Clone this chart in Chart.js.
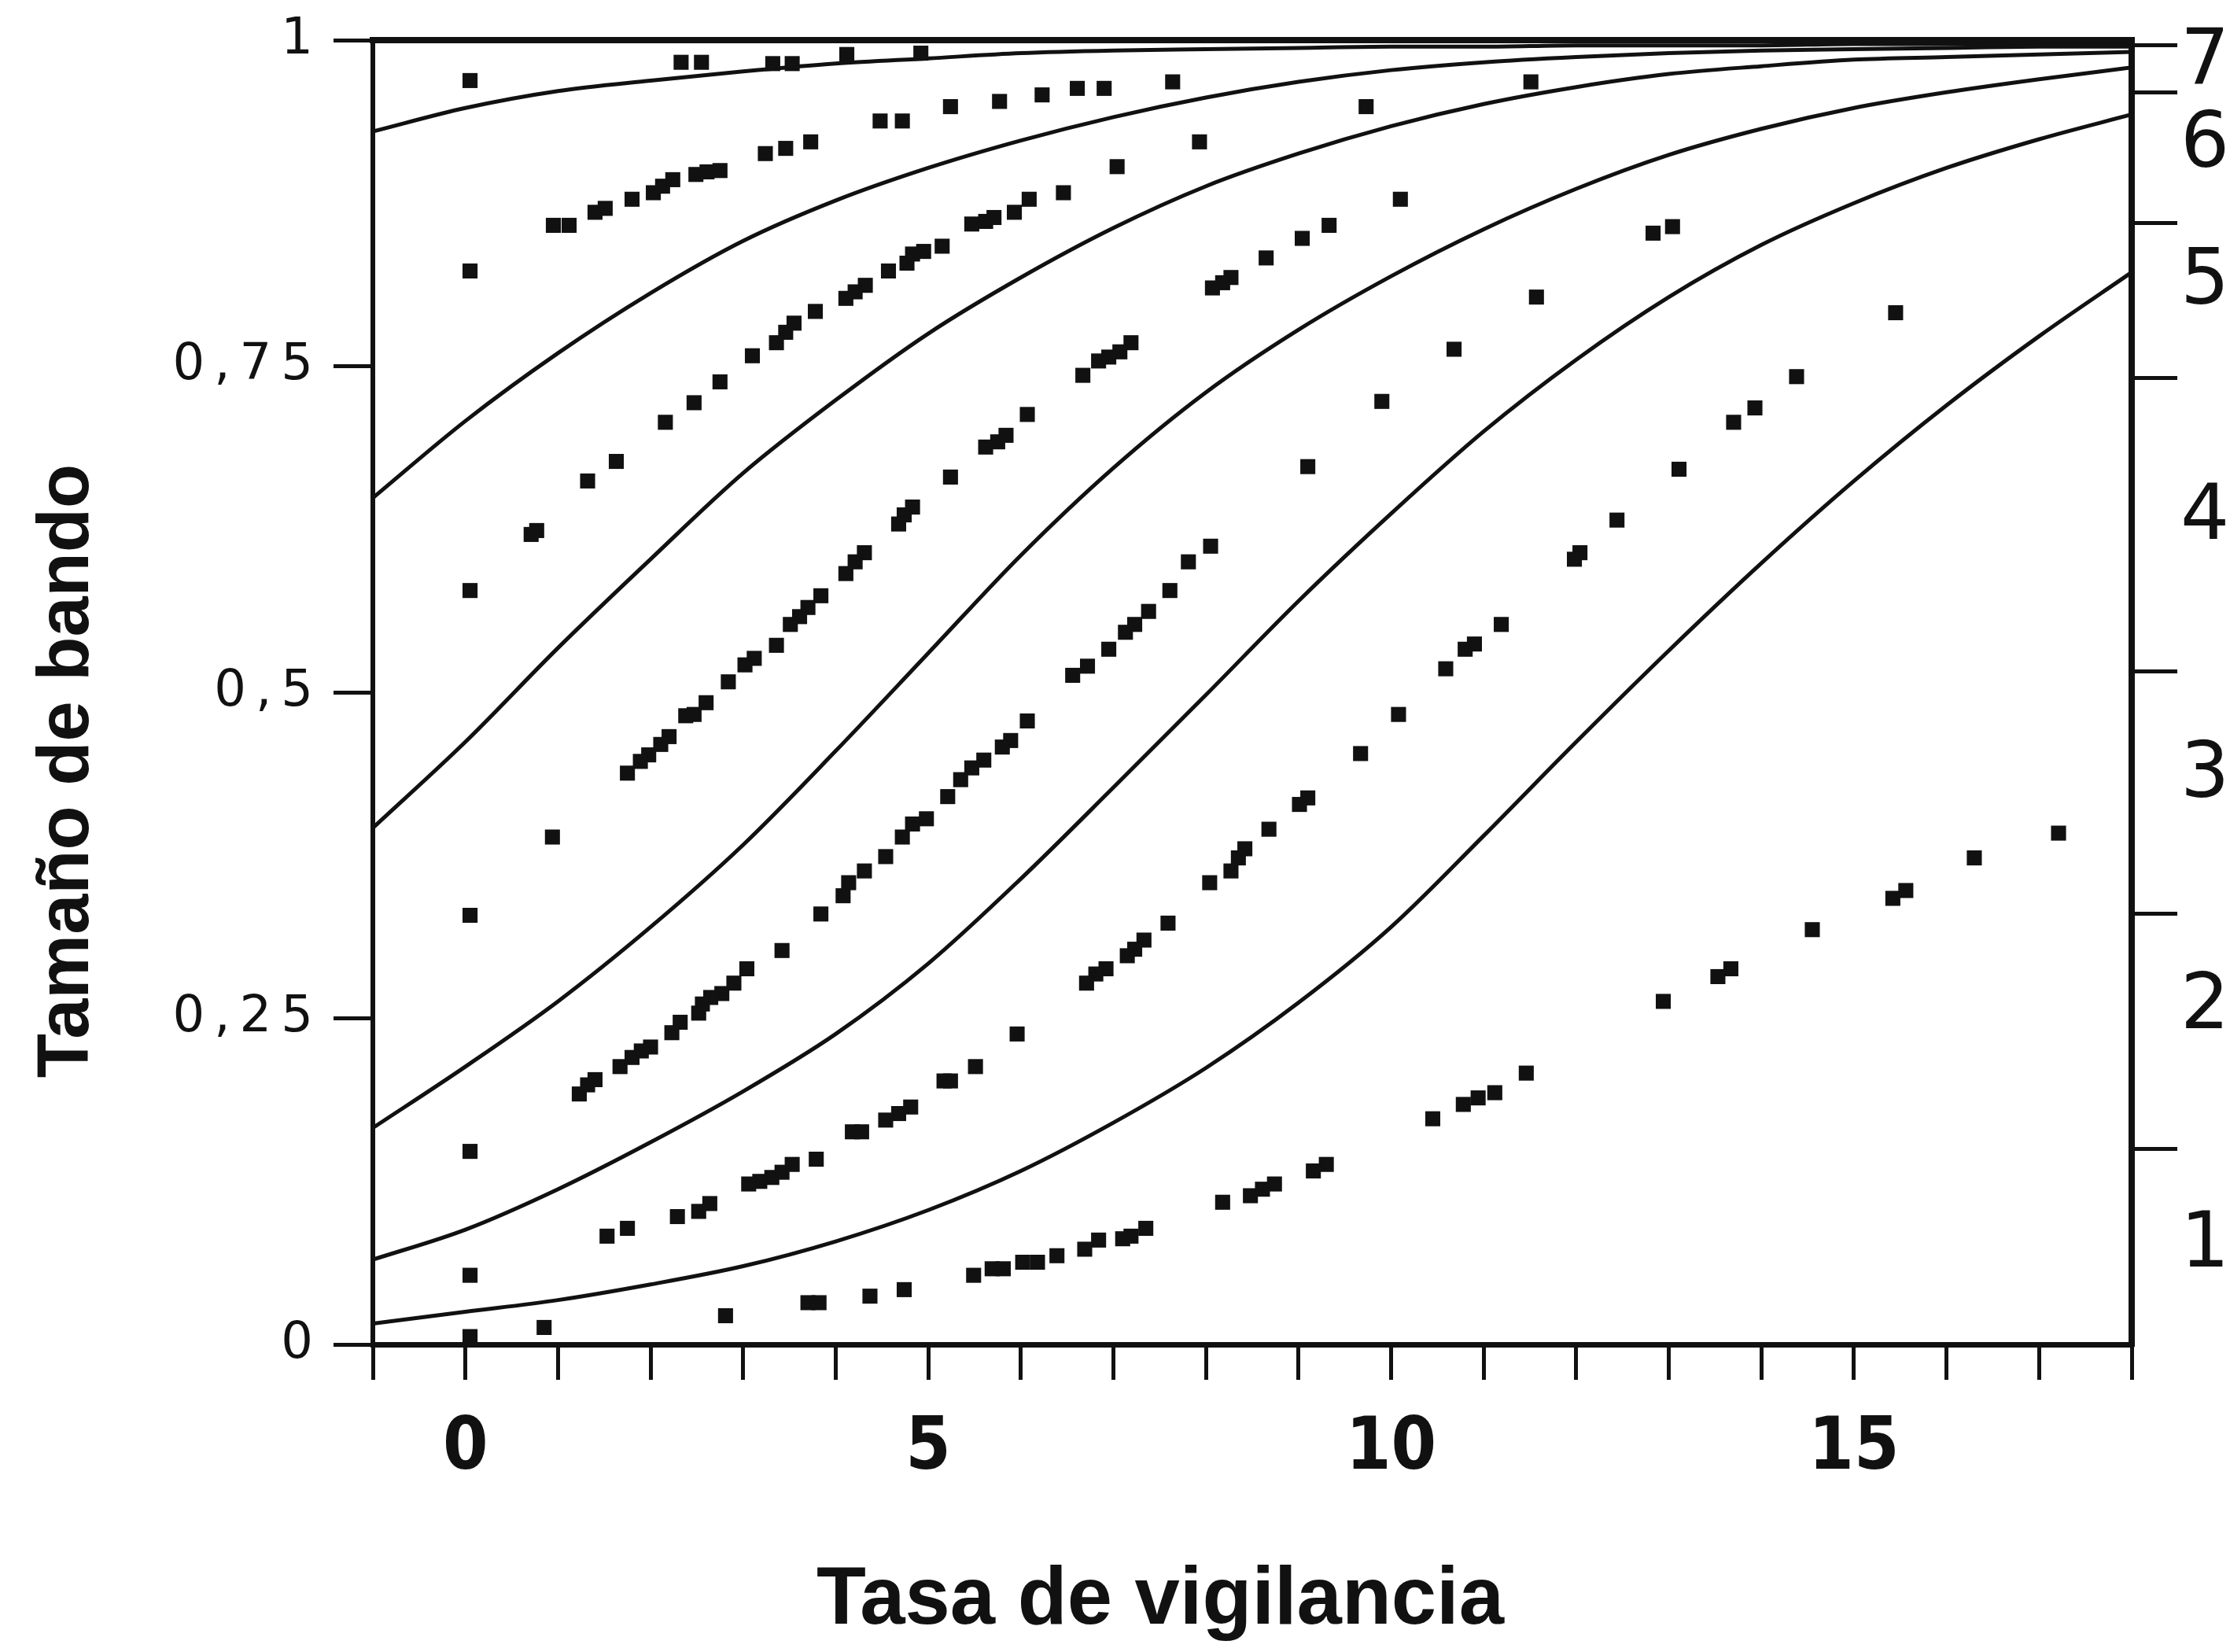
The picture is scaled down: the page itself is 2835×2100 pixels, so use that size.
<!DOCTYPE html>
<html>
<head>
<meta charset="utf-8">
<script src="https://cdn.jsdelivr.net/npm/chart.js@4.4.1/dist/chart.umd.min.js"></script>
<style>
html, body { margin:0; padding:0; background:#fff; overflow:hidden; width:2835px; height:2100px; }
#wrap { position:absolute; left:0; top:-140px; width:2950px; height:2240px; }
canvas { display:block; }
</style>
</head>
<body>
<div id="wrap"><canvas id="c" width="2950" height="2240"></canvas></div>
<script>
// ---- data ----
const xAxisTitle = 'Tasa de vigilancia';
const yAxisTitle = 'Tamaño de bando';
const xLabelledTicks = [0, 5, 10, 15];
const yTickStep = 0.25;

const curveX = [-1,0,1,2,3,4,5,6,7,8,9,10,11,12,13,14,15,16,17,18];
const curve1 = [0.016,0.025,0.034,0.046,0.060,0.079,0.103,0.133,0.170,0.212,0.262,0.320,0.390,0.462,0.532,0.599,0.662,0.720,0.773,0.822];
const curve2 = [0.065,0.088,0.119,0.155,0.194,0.238,0.292,0.357,0.427,0.498,0.570,0.637,0.700,0.755,0.803,0.843,0.875,0.902,0.924,0.943];
const curve3 = [0.166,0.213,0.263,0.320,0.383,0.455,0.530,0.605,0.672,0.730,0.778,0.819,0.855,0.886,0.912,0.932,0.948,0.960,0.970,0.979];
const curve4 = [0.396,0.462,0.534,0.602,0.668,0.724,0.775,0.818,0.856,0.888,0.913,0.934,0.951,0.964,0.974,0.980,0.985,0.987,0.989,0.991];
const curve5 = [0.649,0.708,0.760,0.806,0.846,0.877,0.902,0.923,0.941,0.956,0.968,0.977,0.983,0.987,0.990,0.992,0.993,0.994,0.995,0.995];
const curve6 = [0.930,0.948,0.961,0.969,0.976,0.982,0.986,0.990,0.992,0.993,0.994,0.995,0.995,0.996,0.996,0.996,0.997,0.997,0.997,0.997];

const pointX = [
 0.05,2.33,2.55,3.32,3.53,4.12,4.92,
 4.48,4.72,5.24,5.77,6.23,6.61,6.90,7.64,9.73,11.51,
 0.05,0.95,1.12,1.40,1.51,1.80,2.03,2.13,2.24,2.49,2.61,2.75,3.24,3.46,3.73,
 7.93,7.04,6.46,6.09,5.93,5.47,5.62,5.71,5.15,4.95,4.83,4.77,4.57,4.32,4.21,4.11,
 3.78,3.55,3.46,3.36,3.10,2.75,2.47,2.16,1.63,1.32,0.77,0.71,0.05,
 10.10,9.33,9.04,8.65,8.27,8.18,8.07,12.83,13.04,11.57,10.68,9.90,9.10,
 7.19,7.07,6.95,6.84,6.67,6.07,5.84,5.75,5.62,5.24,4.83,4.74,4.68,4.31,4.21,4.11,3.84,
 3.70,3.61,3.51,3.36,3.12,3.02,2.84,2.60,2.47,2.38,2.20,2.11,1.98,1.89,1.75,0.94,
 15.45,14.38,13.93,13.70,13.11,12.44,12.04,11.98,11.19,10.90,10.80,10.59,
 10.08,9.67,9.10,9.01,8.68,8.42,8.35,8.27,8.04,7.59,7.33,7.23,7.15,6.92,6.81,6.71,
 8.05,7.81,7.61,7.38,7.23,7.13,6.95,6.72,6.56,
 6.07,5.89,5.80,5.60,5.47,5.35,5.21,4.98,4.83,4.72,4.54,4.31,4.14,4.08,3.84,
 3.42,3.04,2.90,2.77,2.65,2.56,2.52,2.32,2.23,2.00,1.90,1.80,1.67,1.40,1.32,1.23,0.05,
 17.21,16.30,15.56,15.42,14.55,13.67,13.53,12.94,
 11.46,11.12,10.94,10.78,10.45,9.30,9.16,8.74,8.61,8.48,8.18,
 7.35,7.19,7.10,6.84,6.69,6.39,6.18,6.02,5.81,5.69,5.49,
 5.96,5.51,5.24,5.17,4.81,4.68,4.54,4.28,4.18,3.79,3.53,3.42,3.31,3.18,3.06,2.64,2.52,2.29,1.75,1.53,0.05,
 0.05,0.05,0.85,2.81,3.70,3.82,4.37,4.74
];
const pointY = [
 0.969,0.983,0.983,0.982,0.982,0.989,0.990,
 0.938,0.938,0.949,0.953,0.958,0.963,0.963,0.968,0.949,0.968,
 0.823,0.858,0.858,0.868,0.871,0.878,0.883,0.888,0.893,0.897,0.899,0.900,0.913,0.917,0.922,
 0.922,0.903,0.883,0.878,0.868,0.859,0.861,0.864,0.842,0.838,0.836,0.829,0.823,0.812,0.807,0.802,
 0.792,0.783,0.776,0.768,0.758,0.738,0.722,0.707,0.677,0.662,0.624,0.621,0.578,
 0.878,0.858,0.848,0.833,0.818,0.814,0.810,0.852,0.857,0.803,0.763,0.723,0.673,
 0.768,0.761,0.757,0.754,0.743,0.713,0.697,0.692,0.688,0.665,0.642,0.636,0.629,0.607,0.600,0.591,0.574,
 0.565,0.558,0.552,0.536,0.526,0.521,0.508,0.492,0.483,0.482,0.466,0.460,0.452,0.447,0.438,0.389,
 0.791,0.742,0.718,0.707,0.671,0.632,0.607,0.602,0.552,0.537,0.533,0.518,
 0.483,0.453,0.419,0.414,0.395,0.380,0.373,0.363,0.354,0.323,0.310,0.303,0.298,0.288,0.284,0.277,
 0.612,0.600,0.578,0.562,0.552,0.546,0.533,0.520,0.513,
 0.478,0.463,0.458,0.448,0.442,0.433,0.420,0.403,0.399,0.389,0.374,0.363,0.354,0.344,0.330,
 0.302,0.288,0.277,0.269,0.266,0.261,0.254,0.247,0.239,0.228,0.225,0.220,0.213,0.203,0.199,0.192,0.329,
 0.392,0.373,0.348,0.342,0.318,0.288,0.282,0.263,
 0.208,0.193,0.189,0.184,0.173,0.138,0.133,0.123,0.119,0.114,0.109,
 0.089,0.083,0.081,0.080,0.073,0.068,0.063,0.063,0.058,0.058,0.053,
 0.238,0.213,0.202,0.202,0.182,0.177,0.172,0.163,0.163,0.142,0.138,0.132,0.128,0.125,0.123,0.108,0.102,0.098,0.089,0.083,0.148,
 0.053,0.006,0.013,0.022,0.032,0.032,0.037,0.042
];

// right-hand category scale: tick marks at the boundaries, labels between them
const rightBoundaries = [0.150, 0.330, 0.516, 0.741, 0.860, 0.960, 0.996];
const rightLabelPos   = [0.075, 0.258, 0.435, 0.633, 0.813, 0.918, 0.982];
const rightLabels     = ['1', '2', '3', '4', '5', '6', '7'];

// ---- chart ----
const INK = '#111';
const curves = [curve1, curve2, curve3, curve4, curve5, curve6];
const curveDatasets = curves.map(c => ({
  type: 'scatter',
  data: curveX.map((x, i) => ({ x: x, y: c[i] })),
  showLine: true,
  borderColor: INK,
  borderWidth: 5,
  pointRadius: 0,
  cubicInterpolationMode: 'monotone',
  fill: false,
  order: 2
}));
const pointDataset = {
  type: 'scatter',
  data: pointX.map((x, i) => ({ x: x, y: pointY[i] })),
  pointStyle: 'rect',
  pointRadius: 13.5,
  backgroundColor: INK,
  borderWidth: 0,
  showLine: false,
  order: 1
};

const chart = new Chart(document.getElementById('c'), {
  type: 'scatter',
  data: { datasets: [...curveDatasets, pointDataset] },
  options: {
    responsive: false,
    devicePixelRatio: 1,
    animation: false,
    events: [],
    layout: { padding: 0 },
    plugins: {
      legend: { display: false },
      tooltip: { enabled: false },
      title: {
        display: true, text: yAxisTitle, position: 'left', color: INK,
        font: { family: "'Liberation Sans', Arial, sans-serif", size: 92, weight: 'bold', lineHeight: 1 },
        padding: { top: 41, bottom: 10 }
      },
      subtitle: {
        display: true, text: xAxisTitle, position: 'bottom', color: INK,
        font: { family: "'Liberation Sans', Arial, sans-serif", size: 103, weight: 'bold', lineHeight: 1 },
        padding: { top: 0, bottom: 13 }
      }
    },
    scales: {
      x: {
        type: 'linear', position: 'bottom', min: -1, max: 18,
        ticks: {
          stepSize: 1, autoSkip: false, maxRotation: 0, minRotation: 0, padding: 34, color: INK,
          font: { family: "'Liberation Sans Narrow', 'DejaVu Sans Condensed', 'Liberation Sans', sans-serif", size: 92, weight: 'bold' },
          callback: v => xLabelledTicks.includes(v) ? String(v) : ''
        },
        grid: { drawOnChartArea: false, drawTicks: true, tickLength: 45, tickWidth: 5, lineWidth: 5, color: INK, tickColor: INK },
        border: { display: true, color: INK, width: 7 },
        afterFit: s => { s.height = 275; }
      },
      xTop: {
        type: 'linear', position: 'top', min: -1, max: 18,
        ticks: { display: false },
        grid: { display: false },
        border: { display: true, color: INK, width: 8 },
        afterFit: s => { s.height = 191; }
      },
      y: {
        type: 'linear', position: 'left', min: 0, max: 1,
        ticks: {
          stepSize: yTickStep, padding: 14, color: INK,
          font: { family: "'DejaVu Sans', sans-serif", size: 64 },
          callback: v => String(Math.round(v * 100) / 100).replace('.', ',')
        },
        grid: { drawOnChartArea: false, drawTicks: true, tickLength: 50, tickWidth: 5, lineWidth: 5, color: INK, tickColor: INK },
        border: { display: true, color: INK, width: 6 },
        afterFit: s => { s.width = 331; }
      },
      yR: {
        type: 'linear', position: 'right', min: 0, max: 1,
        afterBuildTicks: s => {
          s.ticks = rightBoundaries.concat(rightLabelPos).sort((a, b) => a - b).map(v => ({ value: v }));
        },
        ticks: {
          autoSkip: false, padding: 4, color: INK,
          font: { family: "'DejaVu Sans', sans-serif", size: 98 },
          callback: v => { const i = rightLabelPos.indexOf(v); return i >= 0 ? rightLabels[i] : ''; }
        },
        grid: {
          drawOnChartArea: false, drawTicks: true, tickLength: 58, tickWidth: 5, lineWidth: 5, color: INK,
          tickColor: c => (c.tick && rightBoundaries.includes(c.tick.value)) ? INK : 'rgba(0,0,0,0)'
        },
        border: { display: true, color: INK, width: 8 },
        afterFit: s => { s.width = 240; }
      }
    }
  }
});

// the reference's left-axis numbers are widely spaced
const yScale = chart.scales.y;
const baseDrawLabels = yScale.drawLabels.bind(yScale);
yScale.drawLabels = function (area) {
  const ctx = this.ctx;
  ctx.save();
  if ('letterSpacing' in ctx) ctx.letterSpacing = '12px';
  baseDrawLabels(area);
  ctx.restore();
};
chart.draw();
</script>
</body>
</html>
